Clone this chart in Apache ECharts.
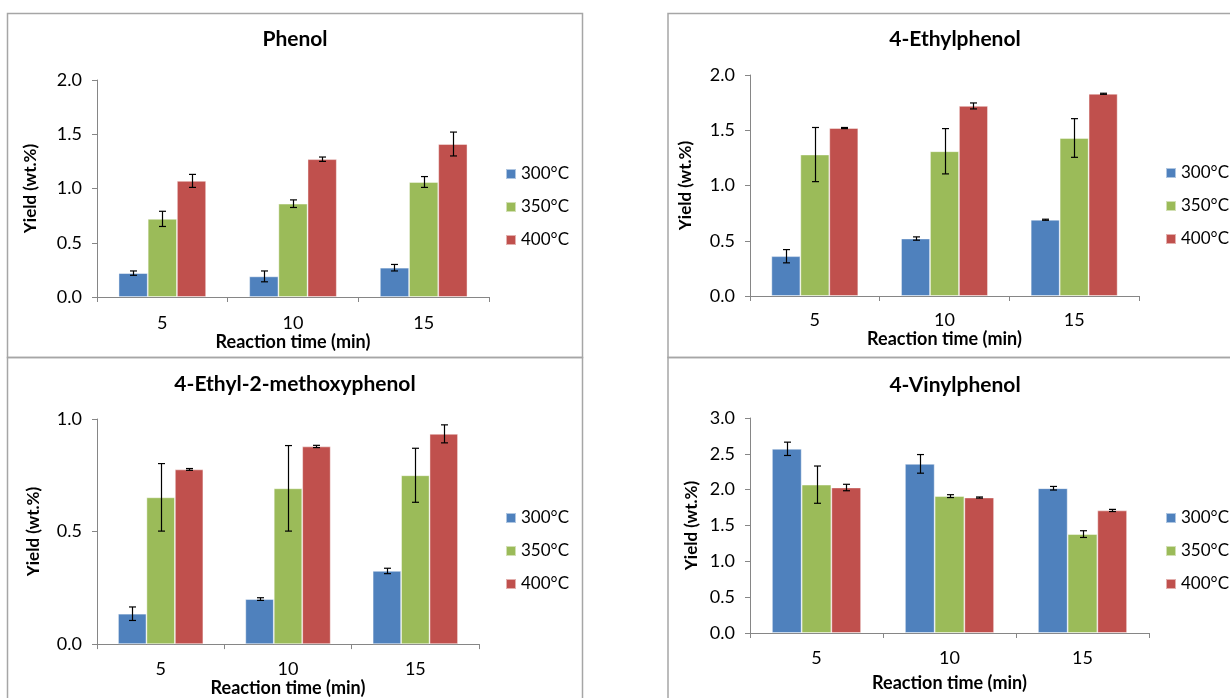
<!DOCTYPE html>
<html>
<head>
<meta charset="utf-8">
<script src="https://cdn.jsdelivr.net/npm/echarts@6/dist/echarts.min.js"></script>
<style>
html,body{margin:0;padding:0;background:#fff;}
#chart{width:1230px;height:698px;}
</style>
</head>
<body>
<div id="chart"></div>
<script>
// ---- data ----
const categories = ['5', '10', '15'];
const seriesNames = ['300°C', '350°C', '400°C'];
const panelTitles = ['Phenol', '4-Ethylphenol', '4-Ethyl-2-methoxyphenol', '4-Vinylphenol'];
const yTitle = 'Yield (wt.%)';
const xTitle = 'Reaction time (min)';

// mean yields, one row per temperature (300, 350, 400 °C)
const phenolMean = [[0.22, 0.19, 0.27], [0.72, 0.86, 1.06], [1.07, 1.27, 1.41]];
const phenolErr  = [[0.02, 0.05, 0.03], [0.07, 0.035, 0.05], [0.06, 0.02, 0.11]];

const ethylphenolMean = [[0.36, 0.52, 0.69], [1.28, 1.31, 1.43], [1.52, 1.72, 1.83]];
const ethylphenolErr  = [[0.06, 0.015, 0.005], [0.245, 0.205, 0.175], [0.005, 0.027, 0.005]];

const methoxyMean = [[0.135, 0.200, 0.325], [0.652, 0.692, 0.750], [0.776, 0.878, 0.934]];
const methoxyErr  = [[0.03, 0.006, 0.012], [0.15, 0.19, 0.12], [0.004, 0.005, 0.04]];

const vinylMean = [[2.57, 2.36, 2.02], [2.07, 1.91, 1.38], [2.03, 1.89, 1.71]];
const vinylErr  = [[0.093, 0.13, 0.025], [0.26, 0.02, 0.047], [0.045, 0.008, 0.015]];

const yMax = [2.0, 2.0, 1.0, 3.0];

// ---- styling / layout ----
const colors = ['#4F81BD', '#9BBB59', '#C0504D'];
const FONT = 'Lato, "Open Sans", sans-serif';
const means = [phenolMean, ethylphenolMean, methoxyMean, vinylMean];
const errs = [phenolErr, ethylphenolErr, methoxyErr, vinylErr];

const grids = [
  {left: 97, top: 80, width: 392, height: 217},
  {left: 750, top: 75, width: 389, height: 221},
  {left: 97, top: 419, width: 382, height: 227},
  {left: 750, top: 418, width: 399, height: 215}
];
const titlePos = [[295, 29], [955, 29], [295, 374], [955, 375]];
const legendPos = [[505, 164], [1165, 163], [505, 508], [1165, 508]];
const yNameGap = [58, 56, 55, 50];
const xNameGap = [36, 31, 33, 41];
const xLabelMargin = [17, 15, 16, 16];
const CAT_GAP = 0.33;
const axisGray = '#868686';

const option = {
  animation: false,
  backgroundColor: '#fff',
  textStyle: {fontFamily: FONT},
  title: panelTitles.map((t, i) => ({
    text: t, left: titlePos[i][0], top: titlePos[i][1], textAlign: 'center', padding: 0,
    textStyle: {fontFamily: FONT, fontSize: 21, fontWeight: 'bold', color: '#000'}
  })),
  legend: legendPos.map(p => ({
    data: seriesNames, orient: 'vertical', left: p[0], top: p[1], padding: 0,
    itemWidth: 10, itemHeight: 10, itemGap: 13, icon: 'rect',
    textStyle: {fontFamily: FONT, fontSize: 17, color: '#000', lineHeight: 20}
  })),
  grid: grids,
  xAxis: grids.map((g, i) => ({
    type: 'category', gridIndex: i, data: categories,
    name: xTitle, nameLocation: 'middle', nameGap: xNameGap[i],
    nameTextStyle: {fontFamily: FONT, fontSize: 18, fontWeight: 'bold', color: '#000'},
    axisLine: {lineStyle: {color: axisGray, width: 1}},
    axisTick: {show: true, length: 5, alignWithLabel: false, lineStyle: {color: axisGray}},
    axisLabel: {fontFamily: FONT, fontSize: 18, color: '#000', margin: xLabelMargin[i]}
  })),
  yAxis: grids.map((g, i) => ({
    type: 'value', gridIndex: i, min: 0, max: yMax[i], interval: 0.5,
    name: yTitle, nameLocation: 'middle', nameGap: yNameGap[i],
    nameTextStyle: {fontFamily: FONT, fontSize: 17, fontWeight: 'bold', color: '#000'},
    axisLine: {show: true, lineStyle: {color: axisGray, width: 1}},
    axisTick: {show: true, length: 5, lineStyle: {color: axisGray}},
    splitLine: {show: false},
    axisLabel: {fontFamily: FONT, fontSize: 18, color: '#000', margin: 15,
      formatter: v => v.toFixed(1)}
  })),
  graphic: [
    {type: 'rect', shape: {x: 7.5, y: 13.5, width: 575, height: 344}, style: {fill: 'none', stroke: '#a6a6a6', lineWidth: 1.5}, silent: true},
    {type: 'rect', shape: {x: 668, y: 13.5, width: 600, height: 344}, style: {fill: 'none', stroke: '#a6a6a6', lineWidth: 1.5}, silent: true},
    {type: 'rect', shape: {x: 7.5, y: 357.5, width: 575, height: 400}, style: {fill: 'none', stroke: '#a6a6a6', lineWidth: 1.5}, silent: true},
    {type: 'rect', shape: {x: 668, y: 357.5, width: 600, height: 400}, style: {fill: 'none', stroke: '#a6a6a6', lineWidth: 1.5}, silent: true}
  ],
  series: []
};

function errRender(sIdx) {
  return function (params, api) {
    const cat = api.value(0), v = api.value(1), e = api.value(2);
    const c = api.coord([cat, v]);
    const band = api.size([1, 0])[0];
    const bw = band * (1 - CAT_GAP) / 3;
    const x = Math.round(c[0] + (sIdx - 1) * bw) + 0.5;
    const yt = api.coord([cat, v + e])[1];
    const yb = api.coord([cat, v - e])[1];
    const cap = 3.5;
    const st = {stroke: '#000', lineWidth: 1.2};
    return {type: 'group', children: [
      {type: 'line', shape: {x1: x, y1: yt, x2: x, y2: yb}, style: st},
      {type: 'line', shape: {x1: x - cap, y1: yt, x2: x + cap, y2: yt}, style: st},
      {type: 'line', shape: {x1: x - cap, y1: yb, x2: x + cap, y2: yb}, style: st}
    ]};
  };
}

for (let p = 0; p < 4; p++) {
  for (let s = 0; s < 3; s++) {
    option.series.push({
      type: 'bar', name: seriesNames[s], xAxisIndex: p, yAxisIndex: p,
      data: means[p][s], barGap: '0%', barCategoryGap: (CAT_GAP * 100) + '%',
      itemStyle: {color: colors[s], borderColor: 'rgba(255,255,255,0.55)', borderWidth: 0.8},
      emphasis: {disabled: true}
    });
  }
  for (let s = 0; s < 3; s++) {
    option.series.push({
      type: 'custom', name: seriesNames[s] + ' error', xAxisIndex: p, yAxisIndex: p,
      renderItem: errRender(s), z: 5,
      encode: {x: 0, y: 1},
      data: means[p][s].map((v, k) => [k, v, errs[p][s][k]])
    });
  }
}

const chart = echarts.init(document.getElementById('chart'), null, {renderer: 'canvas'});
chart.setOption(option);
</script>
</body>
</html>
